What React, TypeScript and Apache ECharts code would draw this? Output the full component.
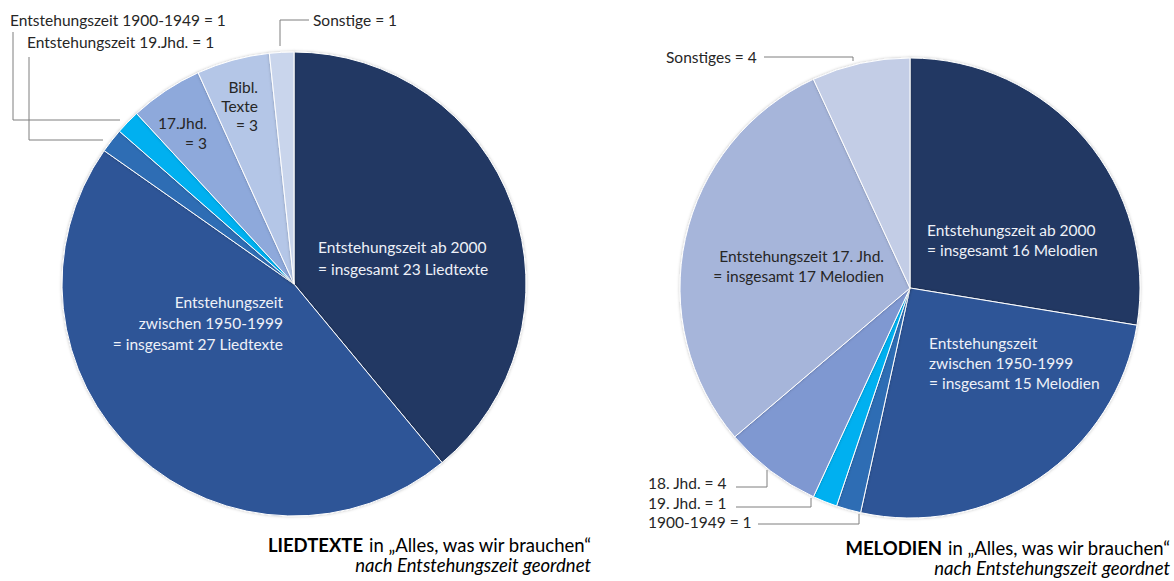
import React, { useEffect, useRef } from "react";
import * as echarts from "echarts";

// ---- data ----
const textCategories = [
  "Entstehungszeit ab 2000",
  "Entstehungszeit zwischen 1950-1999",
  "Entstehungszeit 1900-1949",
  "Entstehungszeit 19.Jhd.",
  "17.Jhd.",
  "Bibl. Texte",
  "Sonstige",
];
const textValues = [23, 27, 1, 1, 3, 3, 1];
const textColors = ["#203864", "#2F5597", "#2E6DB4", "#00B0F0", "#8EA9DB", "#B4C6E7", "#C9D5EC"];

const melodyCategories = [
  "Entstehungszeit ab 2000",
  "Entstehungszeit zwischen 1950-1999",
  "1900-1949",
  "19. Jhd.",
  "18. Jhd.",
  "Entstehungszeit 17. Jhd.",
  "Sonstiges",
];
const melodyValues = [16, 15, 1, 1, 4, 17, 4];
const melodyColors = ["#203864", "#2F5597", "#2E6DB4", "#00B0F0", "#7F98D1", "#A6B5DA", "#C3CDE6"];

const FONT = "Lato, 'Open Sans', sans-serif";
const LINE = "#7F7F7F";
const FS = 15.5;

function txt(x: number, y: number, text: string, opts: any = {}) {
  return {
    type: "text",
    x,
    y,
    z: 100,
    silent: true,
    style: {
      text,
      fill: opts.fill || "#262626",
      font: `${opts.italic ? "italic " : ""}${opts.size || FS}px ${FONT}`,
      textAlign: opts.align || "left",
      textVerticalAlign: "middle",
      lineHeight: opts.lh || 20,
      rich: opts.rich,
    },
  };
}

function pl(points: number[][]) {
  return {
    type: "polyline",
    z: 100,
    silent: true,
    shape: { points },
    style: { stroke: LINE, lineWidth: 1, fill: null },
  };
}

export default function App() {
  const ref = useRef<HTMLDivElement>(null);
  useEffect(() => {
    const chart = echarts.init(ref.current!, null, { renderer: "svg" });
    const mk = (cats: string[], vals: number[], cols: string[]) =>
      cats.map((c, i) => ({ name: c, value: vals[i], itemStyle: { color: cols[i] } }));
    const white = "#EEF1F8";
    const TS = 18.5;
    const titleRich = {
      b: { fontWeight: "bold", fontSize: TS, fontFamily: FONT, fill: "#000000", lineHeight: 20 },
      n: { fontSize: TS, fontFamily: FONT, fill: "#000000", lineHeight: 20 },
      i: { fontStyle: "italic", fontSize: TS, fontFamily: FONT, fill: "#000000", lineHeight: 20 },
    };
    chart.setOption({
      animation: false,
      series: [
        {
          type: "pie",
          center: [294, 284],
          radius: 232,
          startAngle: 90,
          clockwise: true,
          label: { show: false },
          labelLine: { show: false },
          silent: true,
          itemStyle: { borderColor: "#FFFFFF", borderWidth: 1, shadowBlur: 3, shadowColor: "rgba(0,0,0,0.25)" },
          data: mk(textCategories, textValues, textColors),
        },
        {
          type: "pie",
          center: [910, 288],
          radius: 230,
          startAngle: 90,
          clockwise: true,
          label: { show: false },
          labelLine: { show: false },
          silent: true,
          itemStyle: { borderColor: "#FFFFFF", borderWidth: 1, shadowBlur: 3, shadowColor: "rgba(0,0,0,0.25)" },
          data: mk(melodyCategories, melodyValues, melodyColors),
        },
      ],
      graphic: [
        // left pie labels
        txt(318, 258, "Entstehungszeit ab 2000\n= insgesamt 23 Liedtexte", { fill: white, lh: 22 }),
        txt(283, 323, "Entstehungszeit\nzwischen 1950-1999\n= insgesamt 27 Liedtexte", { fill: white, align: "right", lh: 21 }),
        txt(207, 133, "17.Jhd.\n= 3", { align: "right", lh: 20 }),
        txt(258, 106, "Bibl.\nTexte\n= 3", { align: "right", lh: 19 }),
        txt(10, 20, "Entstehungszeit 1900-1949 = 1"),
        txt(27, 42, "Entstehungszeit 19.Jhd. = 1"),
        txt(313, 20, "Sonstige = 1"),
        pl([[13, 32], [13, 120], [120, 120]]),
        pl([[29, 57], [29, 140], [103, 140]]),
        pl([[280, 46], [280, 20], [309, 20]]),
        // right pie labels
        txt(927, 240, "Entstehungszeit ab 2000\n= insgesamt 16 Melodien", { fill: white, lh: 20 }),
        txt(929, 363, "Entstehungszeit\nzwischen 1950-1999\n= insgesamt 15 Melodien", { fill: white, lh: 20 }),
        txt(884, 266, "Entstehungszeit 17. Jhd.\n= insgesamt 17 Melodien", { align: "right", lh: 20 }),
        txt(666, 57, "Sonstiges = 4"),
        pl([[764, 57], [853, 57], [853, 61]]),
        txt(648, 483, "18. Jhd. = 4"),
        pl([[736, 487], [767, 487], [767, 470]]),
        txt(648, 503, "19. Jhd. = 1"),
        pl([[736, 507], [811, 507], [811, 498]]),
        txt(648, 522, "1900-1949 = 1"),
        pl([[758, 524], [859, 524], [859, 514]]),
        // titles
        txt(591, 555, "{b|LIEDTEXTE}{n| in „Alles, was wir brauchen“}\n{i|nach Entstehungszeit geordnet}", {
          align: "right",
          size: TS,
          fill: "#000000",
          lh: 20,
          rich: titleRich,
        }),
        txt(1170, 558, "{b|MELODIEN}{n| in „Alles, was wir brauchen“}\n{i|nach Entstehungszeit geordnet}", {
          align: "right",
          size: TS,
          fill: "#000000",
          lh: 20,
          rich: titleRich,
        }),
      ],
    });
    return () => chart.dispose();
  }, []);
  return (
    <div
      ref={ref}
      style={{ position: "fixed", left: 0, top: 0, width: 1174, height: 581, background: "#FFFFFF" }}
    />
  );
}
